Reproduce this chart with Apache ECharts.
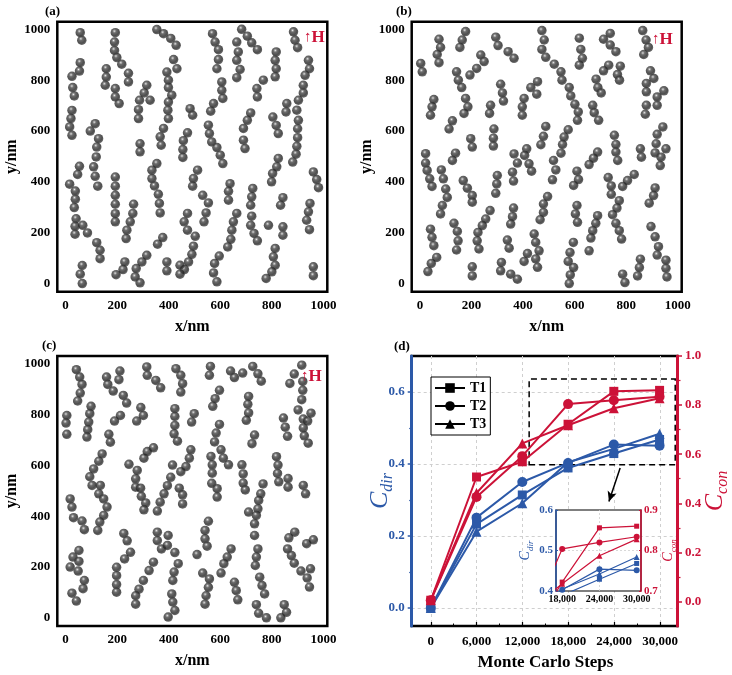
<!DOCTYPE html>
<html><head><meta charset="utf-8">
<script src="https://cdn.jsdelivr.net/npm/echarts@6/dist/echarts.min.js"></script>
<style>html,body{margin:0;padding:0;background:#fff}#c{width:732px;height:675px}</style>
</head><body><div id="c"></div>
<script>
// ---------- data (nm) ----------
const panelA = [
[57,987],[63,957],
[193,987],[190,950],[190,917],[199,889],[218,863],
[354,999],[380,983],[408,964],[429,937],
[570,983],[580,950],[593,920],
[683,1000],[705,973],[722,947],[744,920],
[664,950],[670,911],[664,878],[677,842],[664,810],
[884,990],[890,957],[900,928],
[593,881],[587,845],
[419,881],[432,845],
[817,911],[813,878],[817,845],[813,813],
[57,869],[54,836],[25,815],
[28,771],[34,738],
[158,845],[158,812],[154,780],
[244,827],[244,793],
[193,767],[193,734],[208,708],
[393,832],[399,800],[399,771],[412,741],[399,714],[397,682],[399,649],
[287,721],[283,684],[283,649],
[315,780],[305,750],[328,721],
[606,793],[606,760],[610,728],
[742,767],[744,734],[767,800],
[942,878],[946,845],[929,819],[922,780],[922,750],[903,721],
[858,708],[855,675],
[897,682],[903,642],[900,609],[900,574],[897,540],[894,509],[881,478],
[574,708],[563,678],
[483,688],[493,662],
[718,671],[705,642],[690,610],
[804,655],[817,622],[825,590],
[25,681],[21,649],[16,616],[25,583],
[96,600],[115,629],
[128,570],[121,537],[119,498],
[289,550],[289,518],
[380,610],[367,577],[371,544],
[473,593],[457,562],[455,527],[455,496],
[554,623],[558,590],[567,557],[587,535],[600,505],[610,472],
[690,564],[696,531],
[825,492],[819,459],[803,433],[799,400],
[54,461],[47,429],
[109,459],[115,422],[125,383],
[354,472],[335,446],[335,413],[345,384],[360,351],[364,315],[367,278],
[512,446],[496,413],[493,383],
[961,439],[974,409],[981,377],
[16,391],[38,364],[38,332],[34,299],
[193,419],[193,383],[193,347],[193,312],[193,275],[193,243],
[638,393],[632,363],[632,328],
[726,374],[722,341],[718,308],[722,265],[718,229],[731,197],[744,168],
[843,338],[834,308],
[532,347],[554,317],[545,278],[537,243],
[948,315],[942,282],[935,249],[946,212],
[264,312],[261,276],[251,243],[238,210],[235,177],
[473,276],[460,243],[473,210],[503,186],
[664,276],[651,243],[645,210],[641,174],[629,144],
[41,255],[37,225],[37,194],
[67,229],[85,199],
[843,223],[843,190],
[787,229],
[377,181],[357,155],
[121,161],[134,131],[134,98],
[496,147],[490,115],[477,85],[461,55],
[813,138],[806,105],[813,72],[800,46],[778,20],
[315,111],[296,85],[274,59],[270,26],[289,3],
[230,85],[223,55],[196,35],
[393,85],[393,50],
[444,72],[444,37],
[596,108],[578,79],[574,42],[587,7],
[65,71],[57,37],[65,0],
[961,66],[961,31]
];
const panelB = [
[3,866],[9,833],
[74,961],[80,929],[67,901],[74,869],
[177,991],[164,958],[155,929],
[294,969],[303,936],
[342,912],[365,886],
[473,995],[482,958],[473,921],[488,890],
[521,863],[547,833],[551,800],
[618,965],[624,921],[630,886],[618,859],
[738,984],[712,961],[738,938],[760,912],
[864,995],[877,958],[886,929],[868,901],
[236,899],[249,873],[220,846],[194,820],
[142,833],[149,800],[162,771],
[732,859],[712,837],[683,804],[690,771],[703,750],
[777,855],[766,822],[774,800],
[894,837],[907,807],[878,787],[878,754],
[946,758],[920,734],[920,701],
[313,784],[320,750],[324,718],
[456,794],[430,771],[453,745],
[579,771],[585,738],[601,705],[614,675],[611,642],
[54,724],[47,695],[41,662],
[177,728],[186,695],[171,669],
[274,701],[270,669],
[404,728],[397,695],[397,662],
[670,701],[676,672],[693,642],
[878,701],[874,666],
[126,640],[113,608],
[942,616],[920,587],[916,550],[912,514],
[954,530],[935,497],[932,464],
[488,618],[479,579],[469,546],
[575,605],[559,576],[553,547],[547,513],
[287,608],[285,572],[285,541],
[197,570],[203,537],
[754,583],[760,547],[760,517],[767,484],
[22,511],[22,474],[28,445],[38,412],[47,382],
[138,513],[126,484],
[365,510],[378,474],[359,438],[363,403],
[414,530],[406,504],[423,471],[433,442],
[518,484],[527,447],[514,408],
[689,517],[673,493],[656,468],
[855,530],[859,497],
[83,447],[91,412],[100,372],[106,339],[87,307],[80,274],
[300,425],[298,392],[294,355],
[609,442],[615,409],[596,386],
[730,417],[742,384],[742,351],
[831,429],[805,405],[786,382],
[912,376],[906,346],[889,316],
[168,405],[184,375],[203,346],[203,320],
[495,342],[479,313],[479,280],[466,251],
[272,287],[255,254],[242,228],[225,201],[222,168],[229,136],
[363,297],[359,263],[352,234],
[609,307],[603,274],[611,241],
[773,326],[764,297],[747,271],[760,237],[773,208],[782,175],
[689,267],[682,237],[670,208],[663,179],[656,129],
[41,214],[47,182],[54,149],
[132,237],[145,205],[148,168],[142,132],
[339,171],[346,139],
[443,195],[449,162],[462,129],[449,97],[456,64],
[896,224],[912,184],[925,145],[920,112],
[595,162],[582,122],[575,87],
[596,63],[583,34],[579,0],
[65,103],[44,79],[31,47],
[203,66],[203,30],
[316,83],[313,50],
[352,37],[378,17],
[417,118],[404,87],
[855,96],[851,63],[844,30],
[786,37],[795,4],
[954,92],[954,60],[958,26]
];
const panelC = [
[42,976],[55,947],[64,918],[57,884],[47,853],
[5,796],[2,766],[5,722],
[99,832],[94,803],[90,770],[86,740],[83,711],
[159,947],[164,918],[185,892],
[211,971],[207,937],
[224,875],[237,845],
[168,722],[174,691],
[315,987],[317,954],[350,934],[369,905],
[292,827],[302,796],[276,774],
[213,796],[190,774],
[428,980],[447,954],[454,921],[447,888],
[424,823],[424,792],[424,757],[421,724],[434,695],
[499,803],[489,770],
[562,989],[558,954],
[597,895],[580,862],[571,832],
[640,971],[655,945],[687,963],[726,989],[746,960],[759,931],
[710,871],[707,840],[710,806],[701,777],
[597,761],[584,727],[578,692],
[733,719],[723,685],
[916,994],[887,959],[870,922],
[920,930],[920,895],[916,858],
[845,786],[852,750],[861,714],
[902,818],[922,782],[922,747],[926,716],[941,687],
[952,805],[939,774],
[142,645],[129,616],[109,586],[94,555],
[103,521],
[135,521],[129,488],[148,468],[161,436],[148,403],[133,377],[125,344],
[18,468],[25,436],[31,394],[64,381],[73,347],
[246,604],[278,580],[272,547],[272,514],
[304,628],[317,654],[341,669],
[291,510],[294,478],[311,452],[304,425],
[415,601],[408,553],[395,520],[382,488],[367,455],[356,420],
[447,575],[467,595],[480,628],[486,661],
[441,510],[454,484],[454,448],
[564,635],[569,602],[569,569],[567,529],
[603,661],[612,628],[632,602],
[684,602],[689,566],[689,530],[697,503],
[766,527],[757,488],[749,462],[746,429],[740,403],[733,370],[733,324],
[710,416],
[818,634],[824,601],[822,568],[827,535],
[863,548],[863,514],
[922,521],[931,488],
[588,508],[588,475],
[356,337],[356,304],[372,271],[398,324],[395,285],
[226,332],[239,303],
[252,258],[229,232],
[198,199],[198,166],[198,131],[198,101],
[341,219],[324,186],[302,147],[285,113],[272,87],[272,54],
[424,257],[437,213],[421,180],[416,147],
[412,94],[416,62],[424,29],[398,3],
[510,249],
[554,380],[541,344],[541,311],[549,282],
[642,271],[627,239],[614,213],[603,176],
[532,176],[558,153],[554,120],[545,87],[541,54],
[655,140],[662,107],[668,71],
[746,271],[740,239],[736,206],
[753,160],[762,127],[772,94],
[740,52],[749,18],[779,0],
[848,52],[857,22],[835,0],
[861,271],[876,245],[887,215],[913,184],
[889,337],[866,315],
[935,292],[961,307],
[950,193],[937,157],[946,121],
[52,265],[29,239],[18,200],[52,222],[49,184],[73,147],[68,115],
[25,97],[42,66]
];
const steps  = [0, 6000, 12000, 18000, 24000, 30000];
const cdirT1 = [0.000, 0.233, 0.314, 0.389, 0.429, 0.468];
const cdirT2 = [0.000, 0.251, 0.350, 0.403, 0.454, 0.451];
const cdirT3 = [0.000, 0.212, 0.291, 0.405, 0.442, 0.484];
const cconT1 = [0.005, 0.507, 0.569, 0.722, 0.856, 0.860];
const cconT2 = [0.005, 0.426, 0.592, 0.804, 0.820, 0.834];
const cconT3 = [0.005, 0.442, 0.644, 0.718, 0.787, 0.828];
const seriesNames = ['T1', 'T2', 'T3'];
const panelLabels = ['(a)', '(b)', '(c)', '(d)'];
const zoomBox = [12900, 32050, 0.398, 0.636];     // dashed region (steps, Cdir)
const arrowPts = [[24830, 0.389], [23360, 0.296]]; // arrow to inset

// ---------- styles ----------
const FF = "'Liberation Serif','Times New Roman',serif";
const BLUE = '#2c59a8', RED = '#cc1238';
const sphere = {type:'radial', x:0.4, y:0.34, r:0.66, colorStops:[
  {offset:0, color:'#f4f4f4'},{offset:0.1, color:'#a2a2a2'},{offset:0.3, color:'#474747'},
  {offset:0.72, color:'#222222'},{offset:1, color:'#484848'}]};
const symbols = ['rect', 'circle', 'triangle'];
const bold = (size, color) => ({fontFamily:FF, fontWeight:'bold', fontSize:size, color:color || '#000'});

const nmLabel = v => (v >= 0 && v <= 1000 && v % 200 === 0) ? String(v) : '';
const comma = v => Math.round(v).toLocaleString('en-US');

// panel geometry
const P = [{left:57.3, top:21.7}, {left:411.7, top:21.7}, {left:57.3, top:356}];
const PW = 270, PH = 270;
const D = {left:411.7, top:356, width:266.3, height:270};
const xMin = -2500, xMax = 32350, lMin = -0.05, lMax = 0.7, rMin = -0.1, rMax = 1.0;
const gx = {left: D.left + (0 - xMin) / (xMax - xMin) * D.width, top: D.top,
            width: 30000 / (xMax - xMin) * D.width, height: D.height};
const gy = {left: D.left, width: D.width, top: D.top + (lMax - 0.6) / (lMax - lMin) * D.height,
            height: 0.6 / (lMax - lMin) * D.height};
const gr = {left: D.left, width: D.width, top: D.top + (rMax - 1.0) / (rMax - rMin) * D.height,
            height: 1.0 / (rMax - rMin) * D.height};
const INS = {left:556, top:510, width:85, height:81};
const noLine = {show:false, onZero:false};

const grids = [], xAxes = [], yAxes = [], series = [];
P.forEach((p, i) => {
  grids.push({left:p.left, top:p.top, width:PW, height:PH, show:true, borderColor:'#000', borderWidth:2.5});
  xAxes.push({type:'value', gridIndex:i, min:-32, max:1015, interval:8,
    axisLine:noLine, axisTick:{show:false}, splitLine:{show:false},
    axisLabel:Object.assign({formatter:nmLabel, margin:7}, bold(13)),
    name:'x/nm', nameLocation:'middle', nameGap:27, nameTextStyle:bold(16)});
  yAxes.push({type:'value', gridIndex:i, min:-32, max:1030, interval:8,
    axisLine:noLine, axisTick:{show:false}, splitLine:{show:false},
    axisLabel:Object.assign({formatter:nmLabel, margin:7}, bold(13)),
    name:'y/nm', nameLocation:'middle', nameGap:37, nameTextStyle:bold(16)});
  series.push({type:'scatter', xAxisIndex:i, yAxisIndex:i, data:[panelA, panelB, panelC][i],
    symbolSize:9.5, itemStyle:{color:sphere}, silent:true});
});

// panel d main grid (3)
grids.push({left:D.left, top:D.top, width:D.width, height:D.height, show:true, borderColor:'#000', borderWidth:2.5});
xAxes.push({type:'value', gridIndex:3, min:xMin, max:xMax, show:false, axisLine:noLine});
const nameRich = (color, big, small) => ({
  c:{fontFamily:FF, fontStyle:'italic', fontSize:big, color:color, lineHeight:big + 2, padding:[0,0,3,0]},
  s:{fontFamily:FF, fontStyle:'italic', fontSize:small, color:color, lineHeight:small, verticalAlign:'bottom'}});
yAxes.push({type:'value', gridIndex:3, position:'left', min:lMin, max:lMax, z:3,
  axisLine:{show:true, onZero:false, lineStyle:{color:BLUE, width:3}}, axisTick:{show:false}, axisLabel:{show:false}, splitLine:{show:false},
  name:'{c|C}{s|dir}', nameLocation:'middle', nameGap:16, nameTextStyle:{rich:nameRich(BLUE, 26, 16)}});
yAxes.push({type:'value', gridIndex:3, position:'right', min:rMin, max:rMax, z:3,
  axisLine:{show:true, onZero:false, lineStyle:{color:RED, width:3}}, axisTick:{show:false}, axisLabel:{show:false}, splitLine:{show:false},
  name:'{c|C}{s|con}', nameLocation:'middle', nameGap:25, nameTextStyle:{rich:nameRich(RED, 26, 16)}});

// helper grid 4: step ticks / vertical grid lines
grids.push(Object.assign({show:false}, gx));
xAxes.push({type:'value', gridIndex:4, min:0, max:30000, interval:6000,
  axisLine:noLine,
  axisTick:{show:true, inside:true, length:4, lineStyle:{color:'#000', width:1.2}},
  minorTick:{show:true, splitNumber:2, length:2.5, lineStyle:{color:'#000', width:1}},
  splitLine:{show:true, lineStyle:{color:'#cfcfcf', type:[3,3], width:1}},
  axisLabel:Object.assign({formatter:comma, margin:9}, bold(13)),
  name:'Monte Carlo Steps', nameLocation:'middle', nameGap:28, nameTextStyle:bold(17)});
yAxes.push({type:'value', gridIndex:4, min:0, max:1, show:false, axisLine:noLine});

// helper grid 5: left Cdir ticks / horizontal grid lines
grids.push(Object.assign({show:false}, gy));
xAxes.push({type:'value', gridIndex:5, min:0, max:1, show:false, axisLine:noLine});
yAxes.push({type:'value', gridIndex:5, position:'left', min:0, max:0.6, interval:0.2,
  axisLine:noLine,
  axisTick:{show:true, inside:false, length:4, lineStyle:{color:BLUE, width:1.5}},
  minorTick:{show:true, splitNumber:2, length:2.5, lineStyle:{color:BLUE, width:1.2}},
  splitLine:{show:true, lineStyle:{color:'#cfcfcf', type:[3,3], width:1}},
  axisLabel:Object.assign({formatter:v => v.toFixed(1), margin:7}, bold(13, BLUE))});

// helper grid 6: right Ccon ticks
grids.push(Object.assign({show:false}, gr));
xAxes.push({type:'value', gridIndex:6, min:0, max:1, show:false, axisLine:noLine});
yAxes.push({type:'value', gridIndex:6, position:'right', min:0, max:1, interval:0.2,
  axisLine:noLine,
  axisTick:{show:true, inside:false, length:4, lineStyle:{color:RED, width:1.5}},
  minorTick:{show:true, splitNumber:2, length:2.5, lineStyle:{color:RED, width:1.2}},
  splitLine:{show:false},
  axisLabel:Object.assign({formatter:v => v.toFixed(1), margin:7}, bold(13, RED))});

// inset grid 7
grids.push(Object.assign({show:true, backgroundColor:'#fff', borderColor:'#000', borderWidth:1.2, z:5}, INS));
xAxes.push({type:'value', gridIndex:7, min:17000, max:30700, interval:1000, z:6,
  axisLine:noLine, axisTick:{show:false}, splitLine:{show:false},
  axisLabel:Object.assign({formatter:v => (v % 6000 === 0 ? comma(v) : ''), margin:3}, bold(10))});
yAxes.push({type:'value', gridIndex:7, position:'left', min:0.4, max:0.6, interval:0.1, z:6,
  axisLine:{show:true, onZero:false, lineStyle:{color:BLUE, width:1.5}},
  axisTick:{show:true, inside:true, length:2, lineStyle:{color:BLUE}}, splitLine:{show:false},
  axisLabel:Object.assign({formatter:v => v.toFixed(1), margin:3}, bold(11, BLUE)),
  name:'{c|C}{s|dir}', nameLocation:'middle', nameGap:15, nameTextStyle:{rich:nameRich(BLUE, 14, 9)}});
yAxes.push({type:'value', gridIndex:7, position:'right', min:0.7, max:0.9, interval:0.1, z:6,
  axisLine:{show:true, onZero:false, lineStyle:{color:RED, width:1.5}},
  axisTick:{show:true, inside:true, length:2, lineStyle:{color:RED}}, splitLine:{show:false},
  axisLabel:Object.assign({formatter:v => v.toFixed(1), margin:3}, bold(11, RED)),
  name:'{c|C}{s|con}', nameLocation:'middle', nameGap:13, nameTextStyle:{rich:nameRich(RED, 14, 9)}});

const pairs = arr => steps.map((s, i) => [s, arr[i]]);
const cdir = [cdirT1, cdirT2, cdirT3], ccon = [cconT1, cconT2, cconT3];
const lineSeries = (arr, k, color, xi, yi, big, z) => ({
  type:'line', name:seriesNames[k] + (yi % 2 ? ' Cdir' : ' Ccon'), xAxisIndex:xi, yAxisIndex:yi, data:pairs(arr),
  symbol:symbols[k], symbolSize: big ? (k === 0 ? 9 : 10) : (k === 0 ? 5 : 6), showSymbol:true,
  lineStyle:{color:color, width: big ? 2 : 1.2}, itemStyle:{color:color}, z:z, silent:true, clip:true});

// main panel lines
cdir.forEach((a, k) => series.push(lineSeries(a, k, BLUE, 3, 3, true, 2)));
ccon.forEach((a, k) => series.push(lineSeries(a, k, RED, 3, 4, true, 2)));
series[3].markArea = {silent:true, itemStyle:{color:'rgba(0,0,0,0)', borderColor:'#000', borderWidth:1.5, borderType:[6,4]},
  label:{show:false}, data:[[{xAxis:zoomBox[0], yAxis:zoomBox[2]}, {xAxis:zoomBox[1], yAxis:zoomBox[3]}]]};
series[3].markLine = {silent:true, symbol:['none','arrow'], symbolSize:[7,10], label:{show:false},
  lineStyle:{color:'#000', width:1.5, type:'solid'}, data:[[{coord:arrowPts[0]}, {coord:arrowPts[1]}]]};

// inset lines
cdir.forEach((a, k) => series.push(lineSeries(a, k, BLUE, 7, 8, false, 7)));
ccon.forEach((a, k) => series.push(lineSeries(a, k, RED, 7, 9, false, 7)));
series[9].markLine = {silent:true, symbol:['none','none'], label:{show:false},
  lineStyle:{color:'#cfcfcf', width:0.8, type:[2,2]}, data:[{xAxis:24000}, {yAxis:0.5}]};

// legend proxies (black)
seriesNames.forEach((n, k) => series.push({type:'line', name:n, xAxisIndex:3, yAxisIndex:3, data:[],
  symbol:symbols[k], symbolSize:10, lineStyle:{color:'#000', width:2}, itemStyle:{color:'#000'}}));

const titles = [
  {text:panelLabels[0], left:45, top:5}, {text:panelLabels[1], left:396, top:5},
  {text:panelLabels[2], left:42, top:339}, {text:panelLabels[3], left:394, top:340}
].map(t => Object.assign(t, {padding:0, textStyle:bold(13)}));
const hRich = {a:{fontFamily:FF, fontSize:15, color:RED}, h:{fontFamily:FF, fontSize:17, fontWeight:'bold', color:RED}};
[[304, 29], [652, 31], [301, 368]].forEach(p => titles.push(
  {text:'{a|↑}{h|H}', left:p[0], top:p[1], padding:0, textStyle:{rich:hRich}}));

const chart = echarts.init(document.getElementById('c'), null, {renderer:'canvas'});
chart.setOption({
  animation:false, backgroundColor:'#fff',
  title:titles,
  legend:{data:seriesNames, orient:'vertical', left:431, top:377, itemWidth:30, itemHeight:12, itemGap:4,
    padding:[4,4,4,3], borderColor:'#000', borderWidth:1, backgroundColor:'#fff', textStyle:bold(14), selectedMode:false},
  grid:grids, xAxis:xAxes, yAxis:yAxes, series:series
});
</script></body></html>
